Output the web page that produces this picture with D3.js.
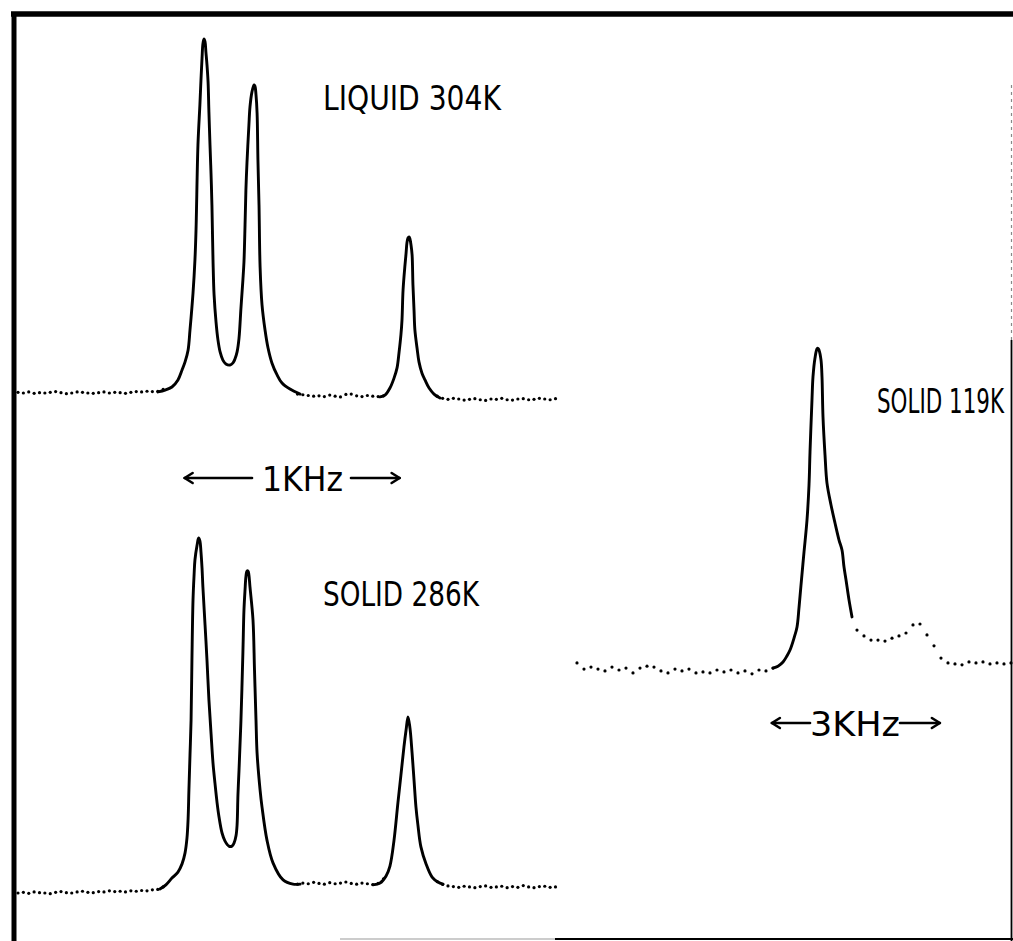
<!DOCTYPE html>
<html>
<head>
<meta charset="utf-8">
<script src="https://cdn.jsdelivr.net/npm/d3@7/dist/d3.min.js"></script>
<style>
  body { margin: 0; background: #fff; }
  svg { display: block; }
</style>
</head>
<body>
<div id="chart"></div>
<script>
// ---- data ----
// left spectra: frequency in Hz, intensity relative to tallest peak (=100)
// dot samples every 25 Hz, null where the hand drawn trace covers them
const leftDotStep = 25;
const liquid304Dots = [
  0.2, 0, 0.3, -0.1, 0.1, 0, 0.2, 0.4, 0.1, -0.2, 0, 0.3, 0.2, 0, -0.1,
  0.1, 0.3, 0, 0.2, 0.1, -0.1, 0.2, 0.4, 0.3, 0.5, 0.4, 0.5, 1.0,
  null, null, null, null, null, null, null, null, null, null, null, null,
  null, null, null, null, null, null, null, null, null, null, null, null,
  -0.3, -0.5, -0.7, -0.9, -0.8, -1.0, -0.6, -0.9, -1.1, -0.4, -0.3, -0.8,
  -1.0, -0.7, -0.9, -1.0, -0.8,
  null, null, null, null, null, null, null, null, null,
  -0.9, -1.5, -1.8, -1.5, -1.7, -2.0, -1.8, -1.6, -1.9, -2.1, -1.7, -1.8,
  -1.5, -1.9, -2.0, -1.7, -1.6, -1.9, -1.8, -1.5, -1.7, -1.9, -1.6
];
const liquid304Doublet = [
  [651, 0.3], [684, 0.8], [716, 1.7], [744, 3.7], [763, 6.5], [777, 8.8],
  [791, 12.1], [800, 17.8], [814, 28.2], [823, 37.6], [828, 46.0], [837, 70.1],
  [846, 81.4], [851, 88.4], [856, 94.6], [860, 98.6], [865, 100], [870, 99.2],
  [874, 96.3], [879, 92.7], [884, 87.9], [888, 79.4], [893, 70.1], [898, 61.6],
  [902, 53.1], [907, 37.6], [912, 27.7], [921, 20.1], [930, 15.0], [940, 11.6],
  [953, 9.3], [967, 8.2], [986, 7.9], [1000, 8.5], [1009, 9.6], [1019, 11.6],
  [1028, 15.5], [1037, 24.0], [1046, 31.9], [1051, 37.0], [1056, 47.5],
  [1060, 57.3], [1065, 65.0], [1074, 75.7], [1079, 80.8], [1088, 85.0],
  [1098, 87.0], [1102, 86.7], [1107, 84.2], [1112, 79.1], [1116, 65.8],
  [1121, 53.1], [1126, 35.6], [1135, 24.9], [1149, 17.8], [1163, 12.7],
  [1181, 8.5], [1205, 5.1], [1228, 2.8], [1265, 1.1], [1312, -0.3]
];
const liquid304Single = [
  [1684, -1.1], [1707, -0.6], [1730, 1.4], [1749, 4.2], [1763, 7.1], [1772, 11.3],
  [1781, 16.4], [1786, 20.6], [1791, 29.1], [1800, 36.2], [1805, 39.5],
  [1809, 42.4], [1814, 43.8], [1819, 44.1], [1823, 43.5], [1828, 41.8],
  [1833, 39.0], [1837, 30.5], [1842, 23.4], [1846, 17.8], [1856, 12.7],
  [1865, 8.8], [1879, 5.6], [1893, 3.7], [1912, 1.4], [1935, -0.3], [1963, -1.4]
];

const solid286Dots = [
  0, 0.2, -0.1, 0.3, 0.1, 0, -0.2, 0.2, 0.4, 0.1, 0, 0.3, 0.5, 0.2, 0.1,
  0.4, 0.3, 0.6, 0.4, 0.5, 0.3, 0.6, 0.5, 0.7, 0.6, 0.9, 1.0, 1.7,
  null, null, null, null, null, null, null, null, null, null, null, null,
  null, null, null, null, null, null, null, null, null, null, null, null,
  2.5, 2.8, 2.6, 3.0, 2.7, 2.5, 2.9, 2.6, 2.8, 3.1, 2.7, 2.5, 2.8, 2.6,
  2.4, 2.7, 4.0,
  null, null, null, null, null, null, null, null, null,
  3.2, 2.4, 2.0, 1.8, 1.6, 1.9, 1.7, 1.5, 1.8, 2.0, 1.6, 1.7, 1.9, 1.5,
  1.8, 1.6, 2.1, 1.7, 1.5, 1.8, 1.9, 1.6, 1.7
];
const solid286Doublet = [
  [660, 1.1], [688, 2.3], [716, 4.2], [744, 5.9], [763, 8.2], [777, 11.3],
  [786, 15.5], [791, 20.6], [795, 29.0], [800, 38.9], [805, 48.7], [809, 65.6],
  [814, 82.5], [819, 89.6], [823, 93.8], [833, 98.0], [840, 100], [846, 99.2],
  [851, 96.1], [856, 91.5], [860, 86.2], [870, 75.5], [879, 65.6], [888, 54.4],
  [898, 44.8], [907, 36.6], [916, 31.0], [926, 25.4], [935, 21.4], [949, 16.9],
  [963, 14.6], [981, 13.2], [995, 13.2], [1005, 14.1], [1014, 16.1],
  [1019, 19.2], [1023, 27.6], [1028, 34.6], [1037, 48.7], [1046, 67.6],
  [1051, 79.7], [1056, 85.4], [1060, 89.0], [1065, 90.7], [1070, 90.7],
  [1074, 89.6], [1079, 86.2], [1093, 76.9], [1100, 62.8], [1107, 48.7],
  [1112, 39.4], [1126, 29.0], [1135, 24.2], [1158, 14.9], [1186, 8.5],
  [1233, 3.7], [1279, 2.5], [1312, 2.5]
];
const solid286Single = [
  [1651, 2.3], [1684, 2.8], [1712, 4.8], [1730, 7.6], [1749, 14.9], [1767, 25.4],
  [1781, 33.2], [1795, 41.1], [1805, 45.9], [1814, 49.6], [1823, 46.5],
  [1833, 39.4], [1842, 31.8], [1851, 24.2], [1860, 19.2], [1874, 13.0],
  [1898, 8.2], [1926, 4.5], [1953, 3.1], [1977, 2.5]
];

// right spectrum: dots every 125 Hz
const rightDotStep = 125;
const solid119Dots = [
  2.2, 0.3, 0.9, 0.3, -0.3, 0.9, 0, 0.6, -0.9, 0.6, 1.2, 0.9, -0.3, -0.9,
  0.3, -0.3, 0.3, -0.9, -0.6, -0.9, 0, -0.6, 0, -0.9, -0.3, -1.2, 0, -0.3, 0.6,
  null, null, null, null, null, null, null, null, null, null, null,
  12.4, 10.6, 9.3, 9.3, 9.0, 9.9, 10.6, 11.5, 14.0, 14.3, 10.9, 7.5, 3.7,
  2.2, 1.9, 1.6, 2.5, 2.2, 2.5, 1.9, 2.2, 1.9, 2.2
];
const solid119Peak = [
  [3500, 0.6], [3589, 1.2], [3679, 2.5], [3750, 4.4], [3804, 6.2], [3875, 9.9],
  [3929, 13.4], [3964, 19.3], [4000, 26.4], [4054, 36.7], [4107, 46.6],
  [4143, 57.5], [4161, 67.8], [4196, 83.9], [4214, 91.1], [4250, 97.0],
  [4286, 99.8], [4304, 100], [4321, 99.5], [4357, 96.4], [4375, 91.1],
  [4393, 78.6], [4429, 66.8], [4464, 58.1], [4536, 51.3], [4607, 45.7],
  [4679, 40.4], [4732, 37.3], [4768, 32.0], [4804, 28.0], [4857, 21.8],
  [4911, 16.5]
];

const labels = ["LIQUID 304K", "SOLID 286K", "SOLID 119K"];
const scaleBars = [1000, 3000]; // Hz
const scaleBarText = ["1KHz", "3KHz"];

// ---- layout ----
const width = 1013, height = 941;
const fontStack = "'Liberation Sans Narrow', 'DejaVu Sans Condensed', 'DejaVu Sans', sans-serif";
const svg = d3.select("#chart").append("svg")
  .attr("width", width).attr("height", height);
svg.append("rect").attr("width", width).attr("height", height).attr("fill", "#fff");

const xLeft = d3.scaleLinear().domain([0, 2500]).range([18, 555.5]);
const yTop = d3.scaleLinear().domain([0, 100]).range([393, 39]);
const yBottom = d3.scaleLinear().domain([0, 100]).range([893, 538]);
const xRight = d3.scaleLinear().domain([0, 7750]).range([577, 1011]);
const yRight = d3.scaleLinear().domain([0, 100]).range([670, 348.3]);

const panels = [
  { dots: liquid304Dots, step: leftDotStep, traces: [liquid304Doublet, liquid304Single], x: xLeft, y: yTop },
  { dots: solid286Dots, step: leftDotStep, traces: [solid286Doublet, solid286Single], x: xLeft, y: yBottom },
  { dots: solid119Dots, step: rightDotStep, traces: [solid119Peak], x: xRight, y: yRight }
];

// frame, as on the scanned plate
const frame = svg.append("g").attr("stroke", "#000").attr("fill", "none");
frame.append("line").attr("x1", 11).attr("x2", width).attr("y1", 14).attr("y2", 14).attr("stroke-width", 5.5);
frame.append("line").attr("x1", 14).attr("x2", 14).attr("y1", 12).attr("y2", height).attr("stroke-width", 5);
frame.append("line").attr("x1", 1011.5).attr("x2", 1011.5).attr("y1", 85).attr("y2", 340)
  .attr("stroke-width", 1.2).attr("stroke", "#888").attr("stroke-dasharray", "3,4");
frame.append("line").attr("x1", 1011.5).attr("x2", 1011.5).attr("y1", 340).attr("y2", height).attr("stroke-width", 1.8);
frame.append("line").attr("x1", 555).attr("x2", width).attr("y1", 939).attr("y2", 939).attr("stroke-width", 2);
frame.append("line").attr("x1", 340).attr("x2", 555).attr("y1", 939).attr("y2", 939)
  .attr("stroke-width", 1.5).attr("stroke", "#bbb");

// spectra
panels.forEach((p) => {
  const g = svg.append("g");
  const pts = p.dots
    .map((v, i) => [i * p.step, v])
    .filter((d) => d[1] !== null);
  g.selectAll("circle")
    .data(pts)
    .enter()
    .append("circle")
    .attr("cx", (d) => p.x(d[0]))
    .attr("cy", (d) => p.y(d[1]))
    .attr("r", 1.6)
    .attr("fill", "#000");

  const line = d3.line()
    .x((d) => p.x(d[0]))
    .y((d) => p.y(d[1]))
    .curve(d3.curveCatmullRom.alpha(0.5));
  p.traces.forEach((t) => {
    g.append("path")
      .attr("d", line(t))
      .attr("fill", "none")
      .attr("stroke", "#000")
      .attr("stroke-width", 2.9)
      .attr("stroke-linejoin", "round")
      .attr("stroke-linecap", "round");
  });
});

// squeeze a text horizontally to a wanted width (condensed lettering of the plate)
function fitText(sel, x, y, len, size) {
  sel.attr("transform", `translate(${x},${y})`)
    .style("font-family", fontStack)
    .style("font-size", size + "px")
    .attr("fill", "#000");
  const natural = sel.node().getComputedTextLength();
  sel.attr("transform", `translate(${x},${y}) scale(${len / natural},1)`);
}

// temperature labels
const labelPos = [
  { x: 323, y: 110, len: 178 },
  { x: 323, y: 606, len: 156 },
  { x: 877, y: 413, len: 127 }
];
labels.forEach((d, i) => {
  const t = svg.append("text").attr("class", "label").text(d);
  fitText(t, labelPos[i].x, labelPos[i].y, labelPos[i].len, 33);
});

// frequency scale bars
const bars = [
  { x: xLeft, start: 775, y: 478, textX: 262, textLen: 81, gapL: 252, gapR: 351 },
  { x: xRight, start: 3480, y: 723, textX: 810, textLen: 90, gapL: 810, gapR: 900 }
];
bars.forEach((b, i) => {
  const x0 = b.x(b.start);
  const x1 = b.x(b.start + scaleBars[i]);
  const g = svg.append("g").attr("stroke", "#000").attr("stroke-width", 2.6)
    .attr("fill", "none").attr("stroke-linecap", "round").attr("stroke-linejoin", "round");
  g.append("line").attr("x1", x0).attr("x2", b.gapL).attr("y1", b.y).attr("y2", b.y);
  g.append("line").attr("x1", b.gapR).attr("x2", x1).attr("y1", b.y).attr("y2", b.y);
  g.append("path").attr("d", `M${x0 + 8},${b.y - 5}L${x0},${b.y}L${x0 + 8},${b.y + 5}`);
  g.append("path").attr("d", `M${x1 - 8},${b.y - 5}L${x1},${b.y}L${x1 - 8},${b.y + 5}`);
  const t = svg.append("text").text(scaleBarText[i]);
  fitText(t, b.textX, b.y + 13, b.textLen, 34);
});
</script>
</body>
</html>
